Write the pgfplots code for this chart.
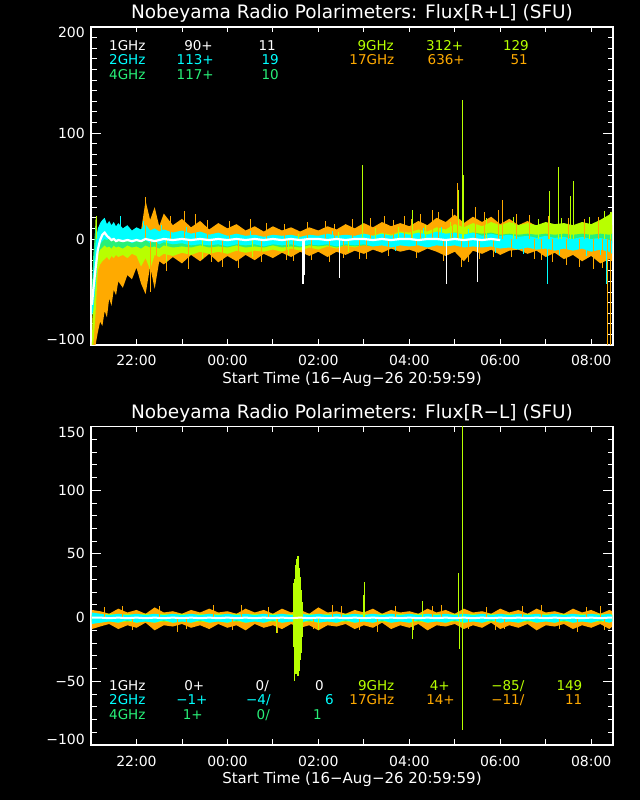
\documentclass[border=0pt]{standalone}
\usepackage{fontspec}
\setmainfont{DejaVu Sans}
\usepackage{xcolor}
\pagecolor{black}
\usepackage{pgfplots}
\pgfplotsset{compat=1.18}
\usepackage{pgfplotstable}
\usepgfplotslibrary{fillbetween}
\definecolor{c17}{RGB}{255,170,0}
\definecolor{c9}{RGB}{184,255,0}
\definecolor{c4}{RGB}{40,240,120}
\definecolor{c2}{RGB}{0,255,255}
\newcommand{\lf}{\fontsize{13.5bp}{16bp}\selectfont}
\newcommand{\tf}{\fontsize{14bp}{16bp}\selectfont}

\pgfplotstableread{
x olo ohi ylo yhi glo ghi clo chi w
21.02 -100 -100 -100 -100 -60 -45 -72 -62 -62
21.05 -100 -55 -100 -40 -50 -15 -68 -30 -48
21.10 -100 -18 -70 20 -30 12 -45 -5 -28
21.15 -88 -22 -30 -4 -14 6 -15 10 -10
21.20 -78 -10 -24 1 -10 4 -5 15 -1
21.25 -82 -6 -21 -3 -8 2 -2 18 4
21.30 -68 -14 -19 1 -6 4 0 20 6
21.35 -74 -8 -17 -2 -8 1 -1 14 3
21.40 -56 -12 -20 -1 -7 3 1 17 1
21.45 -63 -5 -16 -3 -9 2 -2 13 -1
21.50 -48 -11 -18 0 -6 4 0 16 0
21.55 -53 -4 -15 -2 -8 1 -1 12 -2
21.60 -40 -9 -17 -1 -7 3 0 15 -1
21.70 -46 -5 -15 -3 -9 2 -3 10 -2
21.80 -34 -10 -18 -1 -6 3 -1 13 -1
21.90 -38 -3 -14 -4 -8 1 -4 8 -2
22.00 -27 -8 -16 -2 -7 3 -2 11 -1
22.10 -42 8 -26 0 -9 2 -3 9 -2
22.20 -52 36 -18 -1 -6 4 -1 14 0
22.30 -26 18 -29 2 -8 2 -4 8 -1
22.40 -47 30 -15 -3 -7 3 -2 10 -2
22.50 -21 12 -17 -1 -9 1 -5 7 -1
22.60 -24 24 -14 -4 -6 3 -3 9 0
22.80 -17 13 -16 -2 -8 2 -5 6 -1
23.00 -23 19 -13 -5 -7 3 -4 8 0
23.20 -15 11 -15 -3 -8 1 -6 5 -1
23.40 -21 17 -12 -4 -6 3 -5 7 0
23.60 -14 9 -14 -2 -8 2 -6 4 -1
23.80 -22 15 -12 -4 -7 3 -5 6 0
24.00 -16 10 -14 -3 -8 1 -7 3 -1
24.20 -21 14 -11 -2 -6 3 -5 5 0
24.40 -15 8 -13 -4 -8 2 -6 3 -1
24.60 -20 12 -11 -1 -7 3 -5 4 0
24.80 -14 7 -12 -3 -8 1 -7 2 -1
25.00 -18 12 -10 0 -6 3 -5 4 0
25.20 -13 8 -12 -2 -8 2 -6 3 -1
25.40 -17 11 -9 1 -7 3 -5 4 0
25.60 -12 7 -11 -1 -8 1 -7 2 -1
25.80 -16 11 -8 2 -6 3 -5 4 0
26.00 -12 8 -10 0 -7 2 -6 3 0
26.20 -17 12 -7 3 -6 3 -5 5 -1
26.40 -12 9 -9 1 -8 2 -7 3 0
26.60 -15 14 -6 4 -6 3 -5 4 -1
26.80 -11 10 -8 2 -7 2 -6 3 0
27.00 -14 15 -5 5 -6 4 -5 5 0
27.20 -10 11 -7 3 -7 2 -7 3 -1
27.40 -13 16 -4 6 -5 4 -6 5 0
27.60 -9 12 -6 4 -7 3 -8 3 -1
27.80 -12 15 -3 7 -5 4 -6 6 0
28.00 -10 12 -4 6 -6 3 -7 4 0
28.20 -13 17 -2 9 -5 5 -6 6 -1
28.40 -9 13 -3 7 -6 4 -8 4 0
28.60 -12 20 -1 11 -4 5 -6 7 0
28.80 -16 16 -2 9 -5 4 -7 5 -1
29.00 -12 23 0 14 -4 6 -6 6 0
29.20 -21 15 -1 11 -5 4 -8 4 -1
29.40 -11 21 1 15 -4 6 -7 6 0
29.60 -14 16 0 12 -5 5 -8 3 -1
29.80 -10 21 2 16 -4 6 -7 5 0
30.00 -15 14 1 13 -5 4 -9 3 -1
30.20 -11 19 2 16 -4 5 -8 4 nan
30.40 -10 13 1 13 -5 4 -10 2 nan
30.60 -14 17 2 15 -4 5 -8 3 nan
30.80 -11 12 1 13 -5 4 -10 1 nan
31.00 -17 15 3 16 -4 5 -9 3 nan
31.20 -13 11 2 14 -5 4 -11 1 nan
31.40 -19 14 3 15 -4 5 -9 2 nan
31.60 -15 10 2 13 -5 4 -11 0 nan
31.80 -21 13 3 16 -4 5 -9 2 nan
32.00 -16 9 2 14 -5 4 -12 0 nan
32.20 -23 14 4 18 -4 5 -10 1 nan
32.40 -19 11 3 23 -5 4 -12 -1 nan
32.46 -21 13 5 26 -4 5 -14 -2 nan
}\toptab

\pgfplotstableread{
x olo ohi ylo yhi glo ghi clo chi w
21.02 -9 6 -4 3 -3 2 -5 4 0
21.20 -7 5 -4 2 -2 1 -4 3 0
21.40 -5 3 -3 3 -3 2 -3 2 -0.5
21.60 -9 7 -4 2 -2 1 -4 3 0
21.80 -6 4 -3 3 -3 2 -2 2 -0.5
22.00 -8 6 -4 2 -2 1 -4 3 0
22.20 -4 3 -3 3 -3 2 -3 2 -0.5
22.40 -10 8 -4 2 -2 1 -4 3 0
22.60 -6 4 -3 3 -3 2 -2 2 -0.5
22.80 -7 5 -4 2 -2 1 -4 3 0
23.00 -5 3 -3 3 -3 2 -3 2 -0.5
23.20 -8 6 -4 2 -2 1 -4 3 0
23.40 -6 4 -3 3 -3 2 -2 2 -0.5
23.60 -9 7 -4 2 -2 1 -4 3 0
23.80 -5 4 -3 3 -3 2 -3 2 -0.5
24.00 -8 5 -4 2 -2 1 -4 3 0
24.20 -6 3 -3 3 -3 2 -2 2 -0.5
24.40 -10 7 -4 2 -2 1 -4 3 0
24.60 -5 4 -3 3 -3 2 -3 2 -0.5
24.80 -8 6 -4 2 -2 1 -4 3 0
25.00 -6 3 -3 3 -3 2 -2 2 -0.5
25.20 -9 7 -4 2 -2 1 -4 3 0
25.40 -5 4 -3 3 -3 2 -3 2 -0.5
25.60 -8 6 -4 2 -2 1 -4 3 0
25.80 -6 3 -3 3 -3 2 -2 2 -0.5
26.00 -10 8 -4 2 -2 1 -4 3 0
26.20 -6 4 -3 3 -3 2 -3 2 -0.5
26.40 -7 5 -4 2 -2 1 -4 3 0
26.60 -5 3 -3 3 -3 2 -2 2 -0.5
26.80 -9 6 -4 2 -2 1 -4 3 0
27.00 -6 4 -3 3 -3 2 -3 2 -0.5
27.20 -8 7 -4 2 -2 1 -4 3 0
27.40 -4 3 -3 3 -3 2 -2 2 -0.5
27.60 -9 6 -4 2 -2 1 -4 3 0
27.80 -6 4 -3 3 -3 2 -3 2 -0.5
28.00 -8 5 -4 2 -2 1 -4 3 0
28.20 -5 3 -3 3 -3 2 -2 2 -0.5
28.40 -10 7 -4 2 -2 1 -4 3 0
28.60 -6 4 -3 3 -3 2 -3 2 -0.5
28.80 -7 6 -4 2 -2 1 -4 3 0
29.00 -5 3 -3 3 -3 2 -2 2 -0.5
29.20 -9 7 -4 2 -2 1 -4 3 0
29.40 -6 4 -3 3 -3 2 -3 2 -0.5
29.60 -8 5 -4 2 -2 1 -4 3 0
29.80 -4 3 -3 3 -3 2 -2 2 -0.5
30.00 -9 7 -4 2 -2 1 -4 3 0
30.20 -6 4 -3 3 -3 2 -3 2 -0.5
30.40 -8 6 -4 2 -2 1 -4 3 0
30.60 -5 3 -3 3 -3 2 -2 2 -0.5
30.80 -10 7 -4 2 -2 1 -4 3 0
31.00 -6 4 -3 3 -3 2 -3 2 -0.5
31.20 -7 5 -4 2 -2 1 -4 3 0
31.40 -5 3 -3 3 -3 2 -2 2 -0.5
31.60 -9 7 -4 2 -2 1 -4 3 0
31.80 -6 4 -3 3 -3 2 -3 2 -0.5
32.00 -8 6 -4 2 -2 1 -4 3 0
32.20 -5 3 -3 3 -3 2 -2 2 -0.5
32.40 -9 6 -4 2 -2 1 -4 3 0
32.46 -7 5 -3 3 -3 2 -3 2 0
}\bottab

\pgfplotsset{
  nob/.style={
    scale only axis, width=522bp,
    xmin=20.99972, xmax=32.48,
    axis line style={white, line width=1.2bp},
    tick style={white, line width=0.8bp},
    major tick length=10bp, minor tick length=5.5bp,
    xtick={22,24,...,32},
    xticklabels={22:00,00:00,02:00,04:00,06:00,08:00},
    minor xtick={22,23,...,32},
    major x tick style={draw=none},
    tick label style={text=white, font=\tf, inner sep=0pt},
    xticklabel style={anchor=base, yshift=-21bp},
    yticklabel style={anchor=east, xshift=-6bp},
  }
}
\newcommand{\band}[4]{%
  \addplot[draw=none, name path=L#2] table[x=x,y=#2]{#1};
  \addplot[draw=none, name path=H#3] table[x=x,y=#3]{#1};
  \addplot[fill=#4, draw=none] fill between[of=H#3 and L#2];
}

\begin{document}%
\begin{tikzpicture}
\path (0,0) rectangle (640bp,800bp);

% ---------------- top panel ----------------
\begin{axis}[nob, at={(91bp,455bp)}, anchor=south west, height=318bp,
  ymin=-100, ymax=200, ytick={-100,0,100,200}, yticklabels={,0,100,},
  minor y tick num=9]
\band{\toptab}{olo}{ohi}{c17}
\addplot[ycomb, c17, line width=1bp] coordinates {(22.20,40) (22.30,-50) (22.45,-35) (23.30,24) (23.90,-26) (24.50,19) (25.30,-20) (26.90,-19) (27.90,22) (28.50,27) (29.05,53) (29.30,-22) (30.05,37) (30.90,-20) (31.50,20) (32.05,-28) (32.36,-100) (32.42,-100)};
\addplot[ycomb, c17, line width=0.8bp] coordinates {(22.75,22) (23.05,26) (23.55,18) (24.05,17) (24.85,15) (25.25,14) (25.75,16) (26.15,17) (26.35,14) (26.75,19) (27.15,20) (27.45,22) (27.65,18) (28.05,19) (28.25,24) (28.65,25) (28.95,28) (29.45,30) (29.65,25) (29.95,27) (30.35,24) (30.65,23) (31.05,22) (31.35,20) (31.85,19) (32.15,21)};
\addplot[ycomb, c17, line width=0.8bp] coordinates {(22.65,-30) (23.15,-28) (23.65,-22) (24.25,-27) (24.75,-22) (25.45,-21) (25.85,-20) (26.25,-22) (26.55,-18) (27.05,-19) (27.55,-16) (28.15,-18) (28.75,-21) (29.15,-26) (29.55,-19) (29.85,-17) (30.25,-17) (30.75,-19) (31.15,-22) (31.45,-25) (31.75,-26) (32.25,-27)};
\band{\toptab}{ylo}{yhi}{c9}
\addplot[ycomb, c9, line width=1bp] coordinates {(21.12,22) (26.98,70) (28.08,27) (29.09,46) (29.16,131) (29.19,60) (31.09,45) (31.29,68) (31.55,41) (31.62,55) (32.43,25)};
\addplot[ycomb, c9, line width=0.8bp] coordinates {(22.65,-22) (23.45,-19) (24.55,-17) (25.35,-15) (25.55,5) (26.45,7) (26.65,-12) (27.25,10) (27.75,11) (28.35,13) (28.9,16) (29.7,20) (30.3,21) (30.85,19) (31.35,20) (31.95,21) (32.3,26)};
\band{\toptab}{glo}{ghi}{c4}
\band{\toptab}{clo}{chi}{c2}
\addplot[ycomb, c2, line width=1bp] coordinates {(31.04,-42) (32.33,-42)};
\addplot[ycomb, c2, line width=0.8bp] coordinates {(21.65,22) (22.15,17) (22.55,13) (23.1,11) (24.5,8) (26.3,8) (27.7,-11) (28.3,10) (28.7,11) (29.3,9) (29.9,-13) (30.5,-14) (31.3,-15) (31.9,-16) (32.2,-15)};
\addplot[white, line width=2.2bp, unbounded coords=jump] table[x=x,y=w]{\toptab};
\addplot[ycomb, white, line width=1.2bp] coordinates {(25.66,-42) (25.69,-34) (26.47,-37) (28.82,-42) (29.50,-41)};
\end{axis}

% ---------------- bottom panel ----------------
\begin{axis}[nob, at={(91bp,55bp)}, anchor=south west, height=318.5bp,
  ymin=-100, ymax=150, ytick={-100,-50,0,50,100,150}, yticklabels={,−50,0,50,100,},
  minor y tick num=4]
\band{\bottab}{olo}{ohi}{c17}
\addplot[ycomb, c17, line width=1bp] coordinates {(21.70,9) (22.90,-11) (24.30,10) (25.10,-12) (26.50,9) (27.30,-11) (28.70,10) (29.90,-10) (30.50,9) (31.70,-11) (32.20,9)};
\addplot[ycomb, c17, line width=0.8bp] coordinates {(21.3,8) (21.9,-10) (22.5,9) (23.1,-9) (23.7,10) (24.1,-10) (24.9,8) (25.9,-9) (26.3,10) (26.9,-10) (27.7,9) (28.1,-10) (28.5,9) (29.3,-9) (29.7,8) (30.1,-9) (30.9,10) (31.3,-9) (31.9,8) (32.3,-10)};
\band{\bottab}{ylo}{yhi}{c9}
\band{\bottab}{glo}{ghi}{c4}
\addplot[ycomb, c9, line width=1.2bp] coordinates {(25.45,27) (25.47,30) (25.49,35) (25.51,41) (25.53,46) (25.55,48) (25.57,44) (25.59,39) (25.61,32) (25.63,22) (25.65,12)};
\addplot[ycomb, c9, line width=1.2bp] coordinates {(25.45,-23) (25.47,-50) (25.49,-38) (25.51,-44) (25.53,-40) (25.55,-46) (25.57,-36) (25.59,-42) (25.61,-33) (25.63,-28) (25.65,-15)};
\addplot[ycomb, c9, line width=1bp] coordinates {(25.08,-12) (26.00,-10) (27.00,18) (27.01,28) (28.08,-17) (28.30,13) (29.09,35) (29.10,-25) (29.16,150) (29.165,-88)};
\band{\bottab}{clo}{chi}{c2}
\addplot[white, line width=2bp] table[x=x,y=w]{\bottab};
\end{axis}

% ---------------- end tick labels ----------------
\begin{scope}[every node/.style={text=white, font=\tf, inner sep=0pt}]
\node[anchor=north east] at (85bp,773bp) {200};
\node[anchor=south east] at (85bp,455bp) {−100};
\node[anchor=north east] at (85bp,373.5bp) {150};
\node[anchor=south east] at (85bp,55bp) {−100};
\end{scope}

% ---------------- titles ----------------
\node[anchor=base, text=white, font=\fontsize{18.5bp}{20bp}\selectfont, inner sep=0pt] at (352bp,781bp) {Nobeyama Radio Polarimeters: Flux[R+L] (SFU)};
\node[anchor=base, text=white, font=\fontsize{18.5bp}{20bp}\selectfont, inner sep=0pt] at (352bp,381.7bp) {Nobeyama Radio Polarimeters: Flux[R−L] (SFU)};
\node[anchor=base, text=white, font=\fontsize{15bp}{17bp}\selectfont, inner sep=0pt] at (352bp,416.7bp) {Start Time (16−Aug−26 20:59:59)};
\node[anchor=base, text=white, font=\fontsize{15bp}{17bp}\selectfont, inner sep=0pt] at (352bp,16.7bp) {Start Time (16−Aug−26 20:59:59)};

% ---------------- legends ----------------
\begin{scope}[every node/.style={font=\lf, inner sep=0pt}]
\node[anchor=base west, text=white] at (109bp,749.5bp) {1GHz};
\node[anchor=base east, text=white] at (213bp,749.5bp) {90+};
\node[anchor=base east, text=white] at (276bp,749.5bp) {11};
\node[anchor=base east, text=c9] at (394bp,749.5bp) {9GHz};
\node[anchor=base east, text=c9] at (463.5bp,749.5bp) {312+};
\node[anchor=base east, text=c9] at (529bp,749.5bp) {129};
\node[anchor=base west, text=c2] at (109bp,735bp) {2GHz};
\node[anchor=base east, text=c2] at (214bp,735bp) {113+};
\node[anchor=base east, text=c2] at (279bp,735bp) {19};
\node[anchor=base east, text=c17] at (394.5bp,735bp) {17GHz};
\node[anchor=base east, text=c17] at (465bp,735bp) {636+};
\node[anchor=base east, text=c17] at (528bp,735bp) {51};
\node[anchor=base west, text=c4] at (109bp,720.5bp) {4GHz};
\node[anchor=base east, text=c4] at (214bp,720.5bp) {117+};
\node[anchor=base east, text=c4] at (279bp,720.5bp) {10};
\node[anchor=base west, text=white] at (109bp,109.5bp) {1GHz};
\node[anchor=base east, text=white] at (204.5bp,109.5bp) {0+};
\node[anchor=base east, text=white] at (269bp,109.5bp) {0/};
\node[anchor=base east, text=white] at (324bp,109.5bp) {0};
\node[anchor=base east, text=c9] at (394.5bp,109.5bp) {9GHz};
\node[anchor=base east, text=c9] at (450bp,109.5bp) {4+};
\node[anchor=base east, text=c9] at (524.5bp,109.5bp) {−85/};
\node[anchor=base east, text=c9] at (582.5bp,109.5bp) {149};
\node[anchor=base west, text=c2] at (109bp,95bp) {2GHz};
\node[anchor=base east, text=c2] at (207.7bp,95bp) {−1+};
\node[anchor=base east, text=c2] at (270.8bp,95bp) {−4/};
\node[anchor=base east, text=c2] at (334bp,95bp) {6};
\node[anchor=base east, text=c17] at (394.5bp,95bp) {17GHz};
\node[anchor=base east, text=c17] at (455bp,95bp) {14+};
\node[anchor=base east, text=c17] at (524.5bp,95bp) {−11/};
\node[anchor=base east, text=c17] at (582.5bp,95bp) {11};
\node[anchor=base west, text=c4] at (109bp,80.5bp) {4GHz};
\node[anchor=base east, text=c4] at (203bp,80.5bp) {1+};
\node[anchor=base east, text=c4] at (270bp,80.5bp) {0/};
\node[anchor=base east, text=c4] at (322bp,80.5bp) {1};
\end{scope}
\pgfresetboundingbox
\path (0,0) rectangle (640bp,800bp);
\end{tikzpicture}%
\end{document}
